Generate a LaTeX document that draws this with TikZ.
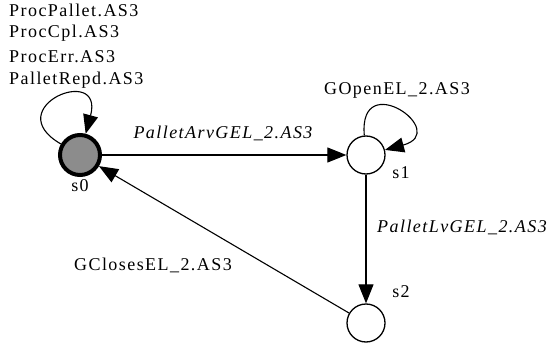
\documentclass[tikz,border=0pt]{standalone}
\usepackage{fontspec}
\setmainfont[LetterSpace=8]{Liberation Serif}
\usetikzlibrary{arrows.meta}
\begin{document}
\begin{tikzpicture}[x=1pt,y=1pt,
  every node/.style={font=\fontsize{18}{22}\selectfont},
  state/.style={circle,draw,line width=1.3pt,minimum size=38pt,inner sep=0pt},
  initstate/.style={state,fill=black!45,line width=4pt,minimum size=40pt},
  trans/.style={-{Triangle[length=19pt,width=15pt]},line width=1.1pt},
  elabel/.style={font=\fontsize{18}{22}\selectfont\itshape},
  plabel/.style={inner sep=0pt}]
\useasboundingbox (0,0) rectangle (553,356);

% states
\node[initstate] (s0) at (80,201) {};
\node[state] (s1) at (366,201) {};
\node[state] (s2) at (366,33) {};

% state names
\node[plabel] (n0) at (80,170) {s0};
\node[plabel] (n1) at (401,183) {s1};
\node[plabel] (n2) at (401,64) {s2};

% self-loop actions of s0
\node[plabel,anchor=west] (a1) at (9,346) {ProcPallet.AS3};
\node[plabel,anchor=west] (a2) at (9,323) {ProcCpl.AS3};
\node[plabel,anchor=west] (a3) at (9,299) {ProcErr.AS3};
\node[plabel,anchor=west] (a4) at (9,276) {PalletRepd.AS3};

% transitions
\draw[trans] (s0) to[out=150,in=75,looseness=7] (s0);
\draw[trans] (s1) to[out=95,in=15,looseness=7] (s1);
\draw[trans] (s0) -- (s1);
\draw[trans] (s1) -- (s2);
\draw[trans] (s2) -- (s0);

% transition labels
\node[plabel,elabel] (t01) at (223,223) {PalletArvGEL\_2.AS3};
\node[plabel] (t11) at (397,266) {GOpenEL\_2.AS3};
\node[plabel,elabel] (t12) at (462,129) {PalletLvGEL\_2.AS3};
\node[plabel] (t20) at (153,91) {GClosesEL\_2.AS3};
\end{tikzpicture}
\end{document}
